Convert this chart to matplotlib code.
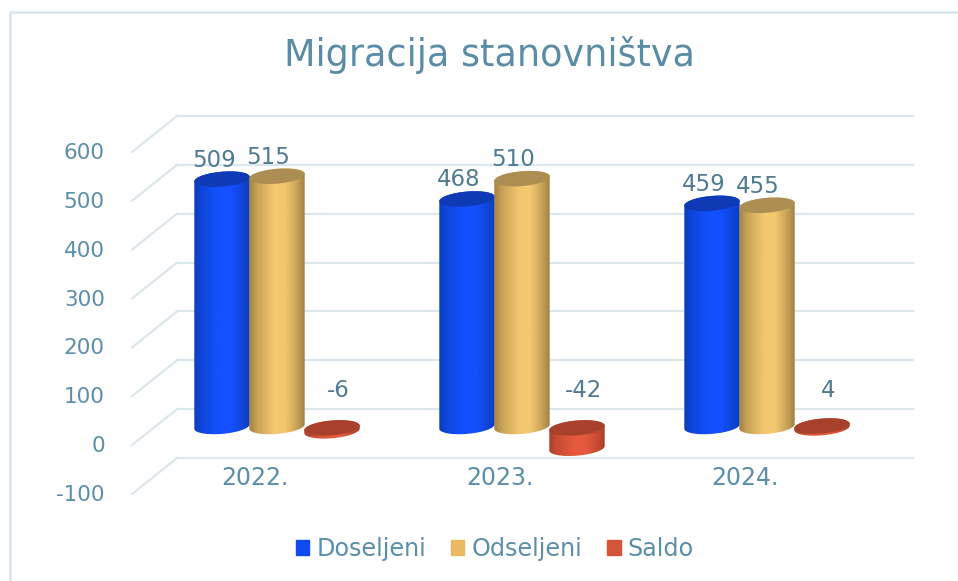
import numpy as np
import matplotlib
matplotlib.use('Agg')
import matplotlib.pyplot as plt
from matplotlib.patches import Patch, Polygon
from matplotlib.transforms import Affine2D

# Data
years = ['2022.', '2023.', '2024.']
doseljeni = [509, 468, 459]
odseljeni = [515, 510, 455]
saldo = [-6, -42, 4]
saldo_labels = ['-6', '-42', '4']
y_ticks = [-100, 0, 100, 200, 300, 400, 500, 600]

W, H = 958, 581
TEXT = '#5b8ea8'
LABEL = '#4f7a90'
GRID = '#dbe6ed'

fig = plt.figure(figsize=(W / 100, H / 100), dpi=100)
plt.rcParams['font.family'] = 'DejaVu Sans'


def axes_px(x0, y0, x1, y1):
    return fig.add_axes([x0 / W, 1 - y1 / H, (x1 - x0) / W, (y1 - y0) / H])


# Back wall with the gridlines
ax = axes_px(177, 116, 913, 458)
ax.set_ylim(-100, 600)
ax.set_xlim((177 - 255) / 245, (913 - 255) / 245)
ax.patch.set_visible(False)
for s in ax.spines.values():
    s.set_visible(False)
px_x = 1 / 245
px_y = 700 / 342
for v in y_ticks:
    ax.axhline(v, color=GRID, lw=1.6, zorder=1, clip_on=False)
    ax.plot([ax.get_xlim()[0], ax.get_xlim()[0] - 45 * px_x], [v, v - 36 * px_y],
            color=GRID, lw=1.6, clip_on=False, zorder=1)
ax.set_xticks(range(len(years)))
ax.set_xticklabels(years, fontsize=17, color=TEXT)
ax.set_yticks(y_ticks)
ax.set_yticklabels([str(v) for v in y_ticks], fontsize=15.5, color=TEXT)
ax.tick_params(length=0)
ax.tick_params(axis='x', pad=6)
ax.tick_params(axis='y', pad=52)
shift = Affine2D().translate(0, -35)
for lab in ax.get_yticklabels():
    lab.set_transform(lab.get_transform() + shift)

# Cylinders, value axis is a bit tighter here than on the back wall
SCALE = 0.484
ax2 = axes_px(0, 0, W, H)
ax2.set_xlim(-277 / 245, (W - 277) / 245)
ax2.set_ylim((425.5 - H) / SCALE, 425.5 / SCALE)
ax2.axis('off')

A, B = 27.8, 7.4
tilt = np.radians(5)


def ellipse(xc, val, t0=0, t1=2 * np.pi):
    t = np.linspace(t0, t1, 80)
    dx = A * np.cos(t) * np.cos(tilt) - B * np.sin(t) * np.sin(tilt)
    dy = A * np.cos(t) * np.sin(tilt) + B * np.sin(t) * np.cos(tilt)
    return np.column_stack([xc + dx * px_x, val + dy / SCALE])


def cylinder(xc, low, high, edge, mid, top, z):
    low_half = ellipse(xc, low, np.pi, 2 * np.pi)
    up = ellipse(xc, high)
    poly = Polygon(np.vstack([low_half, ellipse(xc, high, 0, np.pi)]),
                   transform=ax2.transData, fc='none', ec='none')
    ax2.add_patch(poly)
    pos = np.linspace(0, 1, 128)
    e, m = np.array(matplotlib.colors.to_rgb(edge)), np.array(matplotlib.colors.to_rgb(mid))
    k = np.interp(pos, [0, 0.15, 0.45, 0.65, 0.85, 1], [0, 0.5, 1, 1, 0.5, 0])[:, None]
    grad = (e + (m - e) * k)[None, :, :]
    x_l, x_r = xc - (A + 1) * px_x, xc + (A + 1) * px_x
    im = ax2.imshow(grad, extent=(x_l, x_r, low - 12 / SCALE, high + 12 / SCALE),
                    aspect='auto', zorder=z, interpolation='bilinear')
    im.set_clip_path(poly)
    ax2.add_patch(Polygon(up, fc=top, ec='none', zorder=z + 0.1))


OFF = 55 / 245
for i in range(len(years)):
    cylinder(i - OFF, -2, doseljeni[i], '#0b3cb8', '#1450ff', '#0e3ab6', 3)
    cylinder(i, -2, odseljeni[i], '#9c7c42', '#f3c76e', '#ad8e52', 4)
    # saldo sits a little lower than the other two
    low = min(saldo[i], 0) - 5
    high = max(saldo[i], 0) - 5
    cylinder(i + OFF, low, high, '#a63e28', '#e55a3e', '#a8412b', 5)
    for xc, v, dx in [(i - OFF, doseljeni[i], -8), (i, odseljeni[i], -9)]:
        ax2.annotate(str(v), (xc, v), xytext=(dx, 19), textcoords='offset pixels',
                     ha='center', va='center', fontsize=16.5, color=LABEL, zorder=8)
    ax2.annotate(saldo_labels[i], (i + OFF, 0), xytext=(6, 35), textcoords='offset pixels',
                 ha='center', va='center', fontsize=16.5, color=LABEL, zorder=8)
ax2.set_xlim(-277 / 245, (W - 277) / 245)
ax2.set_ylim((425.5 - H) / SCALE, 425.5 / SCALE)

fig.text(489 / W, 1 - 55 / H, 'Migracija stanovništva', fontsize=26.3, color='#5b8ca5',
         ha='center', va='center')

# Outer border of the chart
fig.add_artist(plt.Line2D([9.5 / W, 9.5 / W, 1], [0, 1 - 11.5 / H, 1 - 11.5 / H],
                          color=GRID, lw=2))

handles = [Patch(color='#1049f0', label='Doseljeni'),
           Patch(color='#e8b960', label='Odseljeni'),
           Patch(color='#d4553c', label='Saldo')]
fig.legend(handles=handles, loc='center', bbox_to_anchor=(495 / W, 1 - 549 / H), ncol=3,
           frameon=False, fontsize=17.2, labelcolor=TEXT, handlelength=0.55, handleheight=0.55,
           handletextpad=0.3, columnspacing=1.05)

fig.savefig('out.png', dpi=100)
